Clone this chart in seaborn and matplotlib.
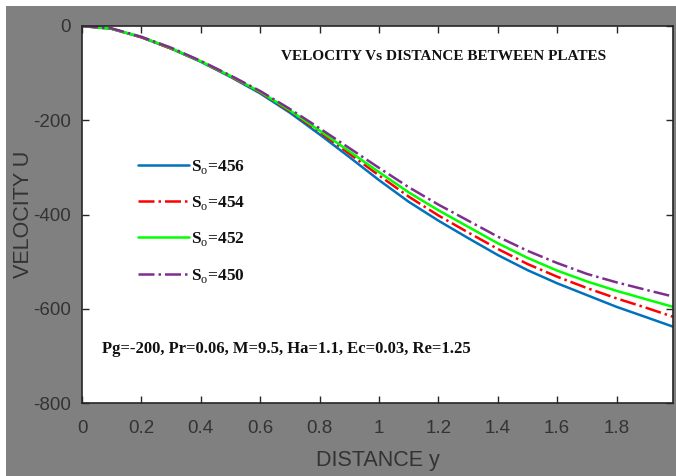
import matplotlib
matplotlib.use("Agg")
import matplotlib.pyplot as plt
from matplotlib import font_manager
import seaborn as sns
import pandas as pd
import numpy as np

# ---- data ----
distance = [0, 0.1, 0.2, 0.3, 0.4, 0.5, 0.6, 0.7, 0.8, 0.9, 1.0,
            1.1, 1.2, 1.3, 1.4, 1.5, 1.6, 1.7, 1.8, 1.9, 1.99]
u_456 = [0, -6, -24, -48, -76, -108, -143, -184, -230, -278, -327,
         -373, -413, -450, -486, -518, -546, -571, -596, -618, -638]
u_454 = [0, -6, -24, -48, -75, -107, -141, -181, -225, -271, -317,
         -362, -402, -438, -473, -505, -532, -556, -578, -598, -617]
u_452 = [0, -6, -23, -47, -75, -106, -140, -179, -222, -266, -310,
         -353, -391, -426, -461, -492, -519, -542, -562, -580, -596]
u_450 = [0, -5, -23, -46, -74, -105, -138, -176, -217, -259, -301,
         -342, -379, -413, -447, -477, -503, -526, -544, -560, -574]
series_labels = ["456", "454", "452", "450"]
x_ticks = [0, 0.2, 0.4, 0.6, 0.8, 1, 1.2, 1.4, 1.6, 1.8]
x_tick_labels = ["0", "0.2", "0.4", "0.6", "0.8", "1", "1.2", "1.4", "1.6", "1.8"]
y_ticks = [-800, -600, -400, -200, 0]
y_tick_labels = ["-800", "-600", "-400", "-200", "0"]

sns.set_theme(style="white")
avail = {f.name for f in font_manager.fontManager.ttflist}
narrow = "Liberation Sans Narrow" if "Liberation Sans Narrow" in avail else "Liberation Sans"
plt.rcParams["font.family"] = [narrow, "DejaVu Sans"]
plt.rcParams["mathtext.fontset"] = "custom"
plt.rcParams["mathtext.rm"] = "Liberation Serif"
plt.rcParams["mathtext.bf"] = "Liberation Serif:bold"

colors = ["#0072BD", "#FF0000", "#00FF00", "#7E2F8E"]
styles = ["-", "-.", "-", "-."]
all_u = [u_456, u_454, u_452, u_450]

fig = plt.figure(figsize=(6.76, 4.76), dpi=100)
fig.patch.set_facecolor("#808080")
# white margins on the top and left edge
fig.patches.append(plt.Rectangle((0, 0), 6 / 676, 1, transform=fig.transFigure,
                                 facecolor="white", edgecolor="none", zorder=-1))
fig.patches.append(plt.Rectangle((0, 1 - 5.5 / 476), 1, 5.5 / 476, transform=fig.transFigure,
                                 facecolor="white", edgecolor="none", zorder=-1))

ax = fig.add_axes([82 / 676, (476 - 403) / 476, (673 - 82) / 676, (403 - 26) / 476])
ax.set_facecolor("white")

for lab, u, c, ls in zip(series_labels, all_u, colors, styles):
    df = pd.DataFrame({"y": distance, "U": u})
    sns.lineplot(data=df, x="y", y="U", ax=ax, color=c, linestyle=ls,
                 linewidth=1.8, label="S$_{\\mathrm{o}}$=" + lab)

ax.set_xlim(0, 1.99)
ax.set_ylim(-800, 0)
ax.set_xticks(x_ticks)
ax.set_xticklabels(x_tick_labels)
ax.set_yticks(y_ticks)
ax.set_yticklabels(y_tick_labels)
tick_color = "#333333"
ax.tick_params(axis="both", direction="in", length=5, width=1, colors="#262626",
               labelcolor=tick_color, labelsize=13.5, top=True, right=True,
               bottom=True, left=True)
ax.tick_params(axis="x", pad=12)
ax.tick_params(axis="y", pad=8)
for s in ax.spines.values():
    s.set_color("#262626")
    s.set_linewidth(1.2)

ax.set_xlabel("DISTANCE y", fontsize=15.5, color=tick_color)
ax.set_ylabel("VELOCITY U", fontsize=15.5, color=tick_color)
ax.xaxis.set_label_coords(0.50, -0.125)
ax.yaxis.set_label_coords(-0.082, 0.5)

serif_bold = dict(family="Liberation Serif", weight="bold")
ax.text(0.612, 0.92, "VELOCITY Vs DISTANCE BETWEEN PLATES", transform=ax.transAxes,
        ha="center", va="center", fontsize=11, color="#111111", **serif_bold)
ax.text(0.033, 0.143, "Pg=-200, Pr=0.06, M=9.5, Ha=1.1, Ec=0.03, Re=1.25",
        transform=ax.transAxes, ha="left", va="center", fontsize=12,
        color="#111111", **serif_bold)

leg = ax.legend(loc="upper left", bbox_to_anchor=(0.094, 0.65), frameon=False,
                prop=dict(family="Liberation Serif", weight="bold", size=12.5),
                handlelength=2.95, handletextpad=0.15, labelspacing=1.05,
                borderpad=0, borderaxespad=0)
for t in leg.get_texts():
    t.set_color("#111111")

fig.savefig("out.png", dpi=100, facecolor=fig.get_facecolor())
